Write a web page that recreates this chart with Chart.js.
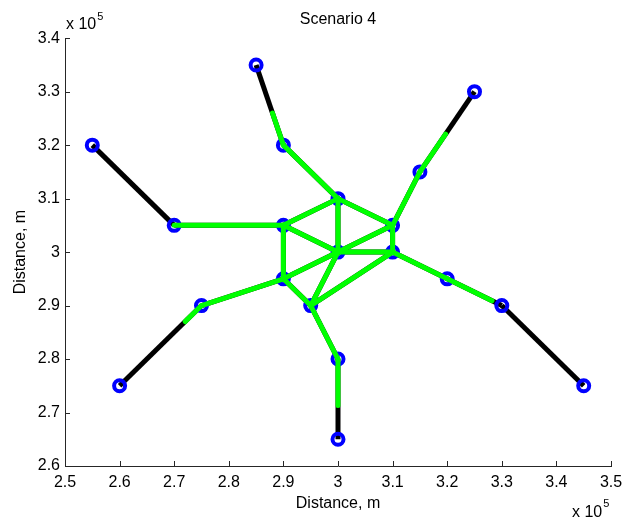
<!DOCTYPE html>
<html><head><meta charset="utf-8">
<style>html,body{margin:0;padding:0;background:#fff;overflow:hidden}</style>
<script src="https://cdn.jsdelivr.net/npm/chart.js@4.4.1/dist/chart.umd.min.js"></script>
</head><body>
<canvas id="c" width="637" height="522"></canvas>
<script>
// Node coordinates (m)
const nodeX = [255000, 270000, 260000, 275000, 285000, 290000, 300000, 290000, 290000, 300000,
               295000, 300000, 300000, 310000, 310000, 315000, 325000, 320000, 330000, 345000];
const nodeY = [320000, 305000, 275000, 290000, 335000, 320000, 310000, 305000, 295000, 300000,
               290000, 280000, 265000, 305000, 300000, 315000, 330000, 295000, 290000, 275000];
// Full network edges (node index pairs), drawn black
const blackEdges = [[0,1],[1,7],[2,3],[3,8],[4,5],[5,6],[6,7],[6,13],[6,9],[7,8],[7,9],[8,9],
                    [8,10],[10,9],[10,14],[10,11],[9,13],[9,14],[13,14],[13,15],[15,16],[14,17],
                    [17,18],[18,19],[11,12]];
// Selected path segments (x1, y1, x2, y2 in m), drawn green
const greenSegments = [
  [288000,326000, 290000,320000], [290000,320000, 300000,310000], [300000,310000, 290000,305000],
  [300000,310000, 310000,305000], [300000,310000, 300000,300000], [270000,305000, 290000,305000],
  [290000,305000, 290000,295000], [290000,305000, 300000,300000], [272000,287000, 275000,290000],
  [275000,290000, 290000,295000], [290000,295000, 300000,300000], [290000,295000, 295000,290000],
  [295000,290000, 300000,300000], [295000,290000, 310000,300000], [295000,290000, 300000,280000],
  [300000,280000, 300000,271300], [300000,300000, 310000,305000], [300000,300000, 310000,300000],
  [310000,305000, 310000,300000], [310000,305000, 315000,315000], [315000,315000, 319700,322050],
  [310000,300000, 320000,295000], [320000,295000, 328200,290900]
];
const xTickValues = [250000,260000,270000,280000,290000,300000,310000,320000,330000,340000,350000];
const yTickValues = [260000,270000,280000,290000,300000,310000,320000,330000,340000];
const titleText = 'Scenario 4';
const xLabel = 'Distance, m';
const yLabel = 'Distance, m';
const exponentText = '5';

const FONT = 'Liberation Sans, Arial, Helvetica, sans-serif';
const AXIS_COLOR = '#262626';

const datasets = [];
blackEdges.forEach(([a, b]) => {
  datasets.push({
    data: [{x: nodeX[a], y: nodeY[a]}, {x: nodeX[b], y: nodeY[b]}],
    showLine: true, borderColor: '#000000', borderWidth: 5, pointRadius: 0,
    borderCapStyle: 'butt', order: 2
  });
});
datasets.push({
  data: nodeX.map((x, i) => ({x: x, y: nodeY[i]})),
  showLine: false, pointRadius: 5.5, pointBorderWidth: 4, pointBorderColor: '#0000ff',
  pointBackgroundColor: 'rgba(0,0,0,0)', order: 1
});
greenSegments.forEach(([x1, y1, x2, y2]) => {
  datasets.push({
    data: [{x: x1, y: y1}, {x: x2, y: y2}],
    showLine: true, borderColor: '#00ff00', borderWidth: 5, pointRadius: 0,
    borderCapStyle: 'round', order: 0
  });
});

const fmt = v => String(Math.round(v / 1e4) / 10);

const decor = {
  id: 'decor',
  afterDraw(chart) {
    const ctx = chart.ctx, a = chart.chartArea;
    const xs = chart.scales.x, ys = chart.scales.y;
    ctx.save();
    ctx.strokeStyle = AXIS_COLOR; ctx.lineWidth = 1;
    ctx.beginPath();
    xs.ticks.forEach(t => {
      const px = Math.round(xs.getPixelForValue(t.value)) + 0.5;
      ctx.moveTo(px, a.bottom); ctx.lineTo(px, a.bottom - 5);
    });
    ys.ticks.forEach(t => {
      const py = Math.round(ys.getPixelForValue(t.value)) + 0.5;
      ctx.moveTo(a.left, py); ctx.lineTo(a.left + 5, py);
    });
    ctx.stroke();
    ctx.fillStyle = '#000';
    ctx.textBaseline = 'alphabetic';
    ctx.textAlign = 'left';
    ctx.font = '16px ' + FONT;
    ctx.fillText('x 10', a.left + 1, a.top - 9);
    let w = ctx.measureText('x 10').width;
    ctx.font = '11px ' + FONT;
    ctx.fillText(exponentText, a.left + 1 + w + 1, a.top - 18);
    ctx.font = '16px ' + FONT;
    ctx.fillText('x 10', a.right - 39, a.bottom + 51);
    w = ctx.measureText('x 10').width;
    ctx.font = '11px ' + FONT;
    ctx.fillText(exponentText, a.right - 39 + w + 1, a.bottom + 41);
    ctx.restore();
  }
};

new Chart(document.getElementById('c'), {
  type: 'scatter',
  data: { datasets },
  options: {
    responsive: false, animation: false, devicePixelRatio: 1,
    layout: { padding: { left: 0, right: 26, top: 0, bottom: 0 } },
    plugins: {
      legend: { display: false }, tooltip: { enabled: false },
      title: { display: true, text: titleText, color: '#000', fullSize: false,
               font: { family: FONT, size: 16, weight: 'normal' },
               padding: { top: 10, bottom: 9 } }
    },
    scales: {
      x: {
        type: 'linear', min: 250000, max: 350000,
        afterBuildTicks: s => { s.ticks = xTickValues.map(v => ({value: v})); },
        afterFit: s => { s.height = 56; },
        grid: { display: true, drawOnChartArea: false, drawTicks: false },
        border: { display: true, color: AXIS_COLOR, width: 1 },
        ticks: { callback: v => fmt(v), color: '#000', padding: 6.5, maxRotation: 0, autoSkip: false,
                 font: { family: FONT, size: 16 } },
        title: { display: true, text: xLabel, color: '#000', font: { family: FONT, size: 16 },
                 padding: { top: 0, bottom: 8.5 } }
      },
      y: {
        type: 'linear', min: 260000, max: 340000,
        afterBuildTicks: s => { s.ticks = yTickValues.map(v => ({value: v})); },
        afterFit: s => { s.width = 65; },
        grid: { display: true, drawOnChartArea: false, drawTicks: false },
        border: { display: true, color: AXIS_COLOR, width: 1 },
        ticks: { callback: v => fmt(v), color: '#000', padding: 5, autoSkip: false,
                 font: { family: FONT, size: 16 } },
        title: { display: true, text: yLabel, color: '#000', font: { family: FONT, size: 16 },
                 padding: { top: 10.5, bottom: 0 } }
      }
    }
  },
  plugins: [decor]
});
</script>
</body></html>
